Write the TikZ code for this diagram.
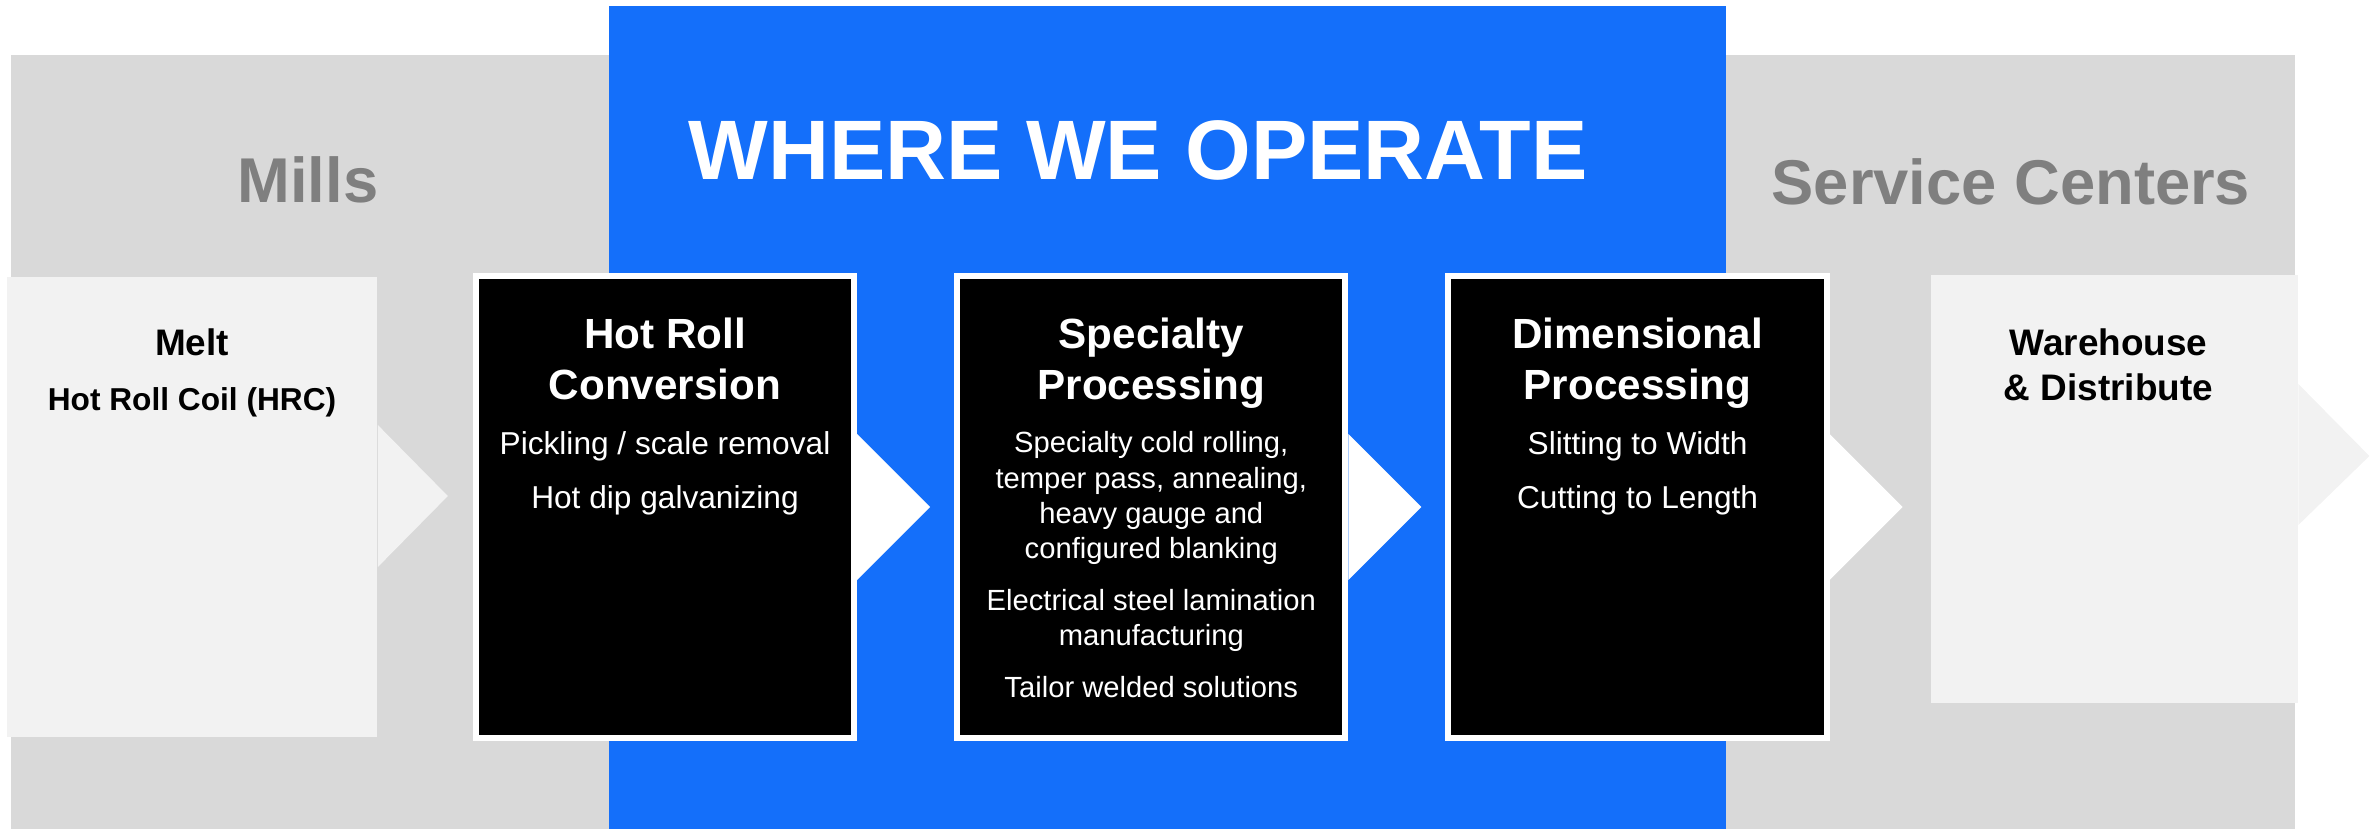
\documentclass[tikz,border=0pt]{standalone}
\usepackage{fontspec}
\setmainfont{Liberation Sans}
\usetikzlibrary{positioning}
\usetikzlibrary{calc}
\definecolor{opblue}{RGB}{20,111,250}
\definecolor{bandgray}{RGB}{217,217,217}
\definecolor{palegray}{RGB}{242,242,242}
\definecolor{headgray}{RGB}{127,127,127}
\newcommand\fsz[2]{\fontsize{#1}{#2}\selectfont}

\begin{document}
\begin{tikzpicture}[x=0.01cm, y=-0.01cm,
node distance=0.97cm,
procbox/.style={
  fill=black,
  draw=white,
  line width=0.06cm,
  minimum width=3.78cm,
  minimum height=4.62cm,
  inner sep=0},
palebox/.style={
  fill=palegray,
  minimum width=3.7cm,
  inner sep=0},
headtext/.style={text=headgray, font=\fsz{18}{21}\bfseries, anchor=base},
titletext/.style={text=white, font=\fsz{12}{14.5}\bfseries, align=center, inner sep=0},
bodytext/.style={text=white, font=\fsz{9}{15.4}, align=center, inner sep=0}
]
\useasboundingbox (0,0) rectangle (2376,829);
% background panels
\fill[bandgray] (11,55) rectangle (2295,829);
\fill[opblue] (609,6) rectangle (1726,829);

\node[headtext] (mills) at (308,202) {Mills};
\node[headtext] (service) at (2011,204) {Service Centers};
\node[headtext, text=white, font=\fsz{24}{28}\bfseries] (operate) at (1138,179) {WHERE WE OPERATE};

% process boxes
\node[procbox] (hot) at (665,507) {};
\node[palebox, minimum height=4.6cm, left=0.95cm of hot] (melt) {};
\node[procbox, minimum width=3.88cm, right=of hot] (spec) {};
\node[procbox, right=of spec] (dim) {};
\node[palebox, minimum width=3.66cm, minimum height=4.28cm, right=1.01cm of dim, yshift=0.18cm] (ware) {};

% chevrons
\fill[palegray] ($(melt.east)+(0,-82)$) -- ($(melt.east)+(70,-11)$) -- ($(melt.east)+(0,60)$) -- cycle;
\foreach \b in {hot,spec,dim}
  \fill[white] ($(\b.east)+(0,-73)$) -- ($(\b.east)+(73,0)$) -- ($(\b.east)+(0,73)$) -- cycle;
\fill[palegray] ($(ware.east)+(0,-105)$) -- ($(ware.east)+(71,-33)$) -- ($(ware.east)+(0,36)$) -- cycle;

% box texts
\node[below=0.52cm of melt.north, align=center, inner sep=0, font=\fsz{9}{15.6}\bfseries] (melttext)
  {{\fsz{10.5}{12}Melt}\\Hot Roll Coil (HRC)};
\node[titletext, below=0.44cm of hot.north] (hottitle) {Hot Roll\\Conversion};
\node[bodytext, below=1.58cm of hot.north] (hotbody) {Pickling / scale removal\\Hot dip galvanizing};
\node[titletext, below=0.44cm of spec.north] (spectitle) {Specialty\\Processing};
\node[bodytext, font=\fsz{8.3}{10}, below=1.58cm of spec.north] (specbody)
  {Specialty cold rolling,\\temper pass, annealing,\\heavy gauge and\\configured blanking\\[4.8pt]
   Electrical steel lamination\\manufacturing\\[4.8pt]Tailor welded solutions};
\node[titletext, below=0.44cm of dim.north] (dimtitle) {Dimensional\\Processing};
\node[bodytext, below=1.58cm of dim.north] (dimbody) {Slitting to Width\\Cutting to Length};
\node[below=0.54cm of ware.north, xshift=-0.06cm, align=center, inner sep=0, font=\fsz{10.5}{12.8}\bfseries] (waretext)
  {Warehouse\\\& Distribute};
\end{tikzpicture}
\end{document}
